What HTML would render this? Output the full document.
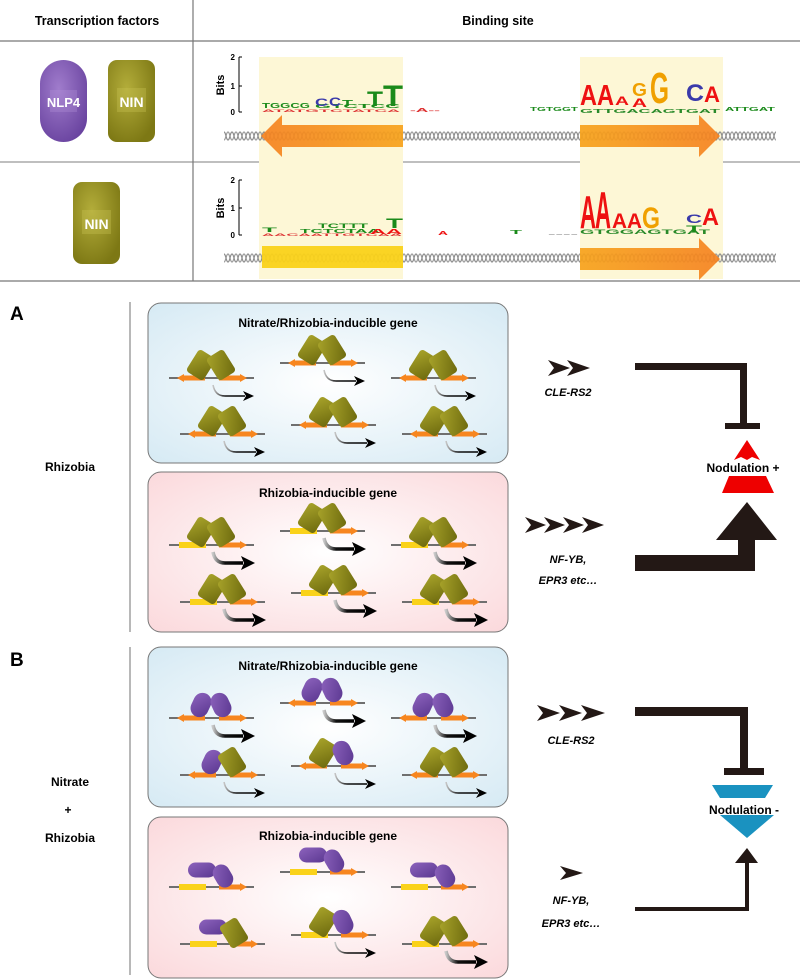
<!DOCTYPE html>
<html><head><meta charset="utf-8"><style>
html,body{margin:0;padding:0;background:#fff;}
svg{display:block;font-family:"Liberation Sans",Arial,sans-serif;}
</style></head><body>
<svg width="800" height="979" viewBox="0 0 800 979" xmlns="http://www.w3.org/2000/svg">
<defs>
<pattern id="helix1" x="0" y="130" width="8" height="12" patternUnits="userSpaceOnUse">
<path d="M0,2 C2,2 2,10 4,10 C6,10 6,2 8,2" fill="none" stroke="#8a8a8a" stroke-width="1.3"/>
<path d="M0,10 C2,10 2,2 4,2 C6,2 6,10 8,10" fill="none" stroke="#9a9a9a" stroke-width="1.3"/>
</pattern>
<pattern id="helix2" x="0" y="252" width="8" height="12" patternUnits="userSpaceOnUse">
<path d="M0,2 C2,2 2,10 4,10 C6,10 6,2 8,2" fill="none" stroke="#8a8a8a" stroke-width="1.3"/>
<path d="M0,10 C2,10 2,2 4,2 C6,2 6,10 8,10" fill="none" stroke="#9a9a9a" stroke-width="1.3"/>
</pattern>
<linearGradient id="orgL" x1="0" x2="1"><stop offset="0" stop-color="#f58220"/><stop offset="1" stop-color="#f7a21b"/></linearGradient>
<linearGradient id="orgR" x1="0" x2="1"><stop offset="0" stop-color="#f7a21b"/><stop offset="1" stop-color="#f58220"/></linearGradient>
<radialGradient id="bluebg" cx="0.5" cy="0.5" r="0.7"><stop offset="0" stop-color="#ffffff"/><stop offset="1" stop-color="#d6eaf4"/></radialGradient>
<radialGradient id="pinkbg" cx="0.5" cy="0.5" r="0.7"><stop offset="0" stop-color="#ffffff"/><stop offset="1" stop-color="#fbd9dc"/></radialGradient>
<linearGradient id="olv" x1="0" y1="0" x2="1" y2="1"><stop offset="0" stop-color="#a8a32a"/><stop offset="1" stop-color="#6d6a0e"/></linearGradient>
<linearGradient id="pur" x1="0" y1="0" x2="1" y2="1"><stop offset="0" stop-color="#8d63bd"/><stop offset="1" stop-color="#5a3790"/></linearGradient>
<radialGradient id="purBig" cx="0.4" cy="0.35" r="0.7"><stop offset="0" stop-color="#a07ccc"/><stop offset="1" stop-color="#6a44a0"/></radialGradient>
<radialGradient id="olvBig" cx="0.4" cy="0.35" r="0.7"><stop offset="0" stop-color="#b3ad3a"/><stop offset="1" stop-color="#7d7814"/></radialGradient>
<linearGradient id="fade" x1="0" x2="1"><stop offset="0" stop-color="#c8c8c8"/><stop offset="0.4" stop-color="#111"/><stop offset="1" stop-color="#000"/></linearGradient>

<g id="dnaO">
<line x1="0" y1="0" x2="85" y2="0" stroke="#6f6f6f" stroke-width="2"/>
<rect x="14" y="-2.5" width="22" height="5" fill="#f7861f"/><polygon points="8,0 15,-4 15,4" fill="#f7861f"/>
<rect x="50" y="-2.5" width="22" height="5" fill="#f7861f"/><polygon points="78,0 71,-4 71,4" fill="#f7861f"/>
</g>
<g id="dnaY">
<line x1="0" y1="0" x2="85" y2="0" stroke="#6f6f6f" stroke-width="2"/>
<rect x="10" y="-3" width="27" height="6" fill="#fad21a"/>
<rect x="50" y="-2.5" width="22" height="5" fill="#f7861f"/><polygon points="78,0 71,-4 71,4" fill="#f7861f"/>
</g>
<rect id="oL" x="-10" y="-13" width="20" height="26" rx="3.5" fill="url(#olv)" transform="translate(32,-13) rotate(32)"/>
<rect id="oR" x="-10" y="-13" width="20" height="26" rx="3.5" fill="url(#olv)" transform="translate(52,-13) rotate(-32)"/>
<rect id="pL" x="-9" y="-12.5" width="18" height="25" rx="9" fill="url(#pur)" transform="translate(32,-13) rotate(25)"/>
<rect id="pR" x="-9" y="-12.5" width="18" height="25" rx="9" fill="url(#pur)" transform="translate(52,-13) rotate(-25)"/>
<rect id="pH" x="-14" y="-7.5" width="28" height="15" rx="7.5" fill="url(#pur)" transform="translate(33,-17)"/>
<rect id="pR2" x="-8.5" y="-12" width="17" height="24" rx="8.5" fill="url(#pur)" transform="translate(54,-11) rotate(-30)"/>
<rect id="oR2" x="-10" y="-13" width="20" height="26" rx="3.5" fill="url(#olv)" transform="translate(54,-11) rotate(-32)"/>
<g id="arT"><path d="M44,7 Q46,18 56,18 L76,18" fill="none" stroke="url(#fade)" stroke-width="1.6"/><polygon points="74,13 85,18 74,23 77,18" fill="#000"/></g>
<g id="arK"><path d="M44,7 Q46,18 56,18 L74,18" fill="none" stroke="url(#fade)" stroke-width="3.5"/><polygon points="72,11 86,18 72,25 75,18" fill="#000"/></g>
</defs>

<!-- TOP TABLE -->
<text x="97" y="25" font-size="12.5" font-weight="bold" text-anchor="middle">Transcription factors</text>
<text x="498" y="25" font-size="12.5" font-weight="bold" text-anchor="middle">Binding site</text>
<line x1="0" y1="41" x2="800" y2="41" stroke="#777" stroke-width="1.2"/>
<line x1="0" y1="162" x2="800" y2="162" stroke="#999" stroke-width="1.2"/>
<line x1="0" y1="281" x2="800" y2="281" stroke="#777" stroke-width="1.2"/>
<line x1="193" y1="0" x2="193" y2="281" stroke="#777" stroke-width="1.2"/>

<rect x="40" y="60" width="47" height="82" rx="23.5" fill="url(#purBig)"/>
<rect x="50" y="90" width="27" height="22" fill="#b596dc" opacity="0.3"/>
<text x="63.5" y="107" font-size="13" font-weight="bold" fill="#fff" text-anchor="middle">NLP4</text>
<rect x="108" y="60" width="47" height="82" rx="9" fill="url(#olvBig)"/>
<rect x="117" y="88" width="29" height="24" fill="#c8c254" opacity="0.35"/>
<text x="131.5" y="107" font-size="14" font-weight="bold" fill="#fff" text-anchor="middle">NIN</text>
<rect x="73" y="182" width="47" height="82" rx="9" fill="url(#olvBig)"/>
<rect x="82" y="210" width="29" height="24" fill="#c8c254" opacity="0.35"/>
<text x="96.5" y="229" font-size="14" font-weight="bold" fill="#fff" text-anchor="middle">NIN</text>

<rect x="259" y="57" width="144" height="222" fill="#fdf7d6"/>
<rect x="580" y="57" width="143" height="222" fill="#fdf7d6"/>

<g font-size="8" font-weight="bold">
<line x1="239" y1="57" x2="239" y2="112" stroke="#000" stroke-width="1"/>
<line x1="239" y1="57" x2="242" y2="57" stroke="#000"/><line x1="239" y1="86" x2="242" y2="86" stroke="#000"/><line x1="239" y1="112" x2="242" y2="112" stroke="#000"/>
<text x="235" y="60" text-anchor="end">2</text><text x="235" y="89" text-anchor="end">1</text><text x="235" y="115" text-anchor="end">0</text>
<text transform="translate(224,85) rotate(-90)" text-anchor="middle" font-size="11">Bits</text>
<line x1="239" y1="180" x2="239" y2="235" stroke="#000" stroke-width="1"/>
<line x1="239" y1="180" x2="242" y2="180" stroke="#000"/><line x1="239" y1="208" x2="242" y2="208" stroke="#000"/><line x1="239" y1="235" x2="242" y2="235" stroke="#000"/>
<text x="235" y="183" text-anchor="end">2</text><text x="235" y="211" text-anchor="end">1</text><text x="235" y="238" text-anchor="end">0</text>
<text transform="translate(224,208) rotate(-90)" text-anchor="middle" font-size="11">Bits</text>
</g>

<g font-weight="bold">
<text x="262" y="108" font-size="7" fill="#1a8a1a" textLength="48" lengthAdjust="spacingAndGlyphs">TGGCG</text>
<text x="262" y="112" font-size="4" fill="#d33" textLength="138" lengthAdjust="spacingAndGlyphs">ATATGTCTATCA</text>
<text x="315" y="108" font-size="5" fill="#1a8a1a" textLength="85" lengthAdjust="spacingAndGlyphs">GTCTCC</text>
<text x="315" y="106" font-size="11" fill="#3a3aaa" textLength="13" lengthAdjust="spacingAndGlyphs">C</text>
<text x="329" y="106" font-size="12" fill="#3a3aaa" textLength="12" lengthAdjust="spacingAndGlyphs">C</text>
<text x="342" y="106" font-size="8" fill="#1a8a1a" textLength="11" lengthAdjust="spacingAndGlyphs">T</text>
<text x="367" y="106" font-size="21" fill="#1a8a1a" textLength="16" lengthAdjust="spacingAndGlyphs">T</text>
<text x="383" y="106" font-size="30" fill="#1a8a1a" textLength="20" lengthAdjust="spacingAndGlyphs">T</text>
<text x="410" y="112" font-size="5" fill="#d33" textLength="30" lengthAdjust="spacingAndGlyphs">-A--</text>
<text x="530" y="111" font-size="5" fill="#1a8a1a" textLength="48" lengthAdjust="spacingAndGlyphs">TGTGGT</text>
<text x="580" y="113" font-size="5" fill="#2a8a2a" textLength="140" lengthAdjust="spacingAndGlyphs">GTTGACAGTGAT</text>
<text x="580" y="105" font-size="29" fill="#ee1111" textLength="17" lengthAdjust="spacingAndGlyphs">A</text>
<text x="597" y="105" font-size="29" fill="#ee1111" textLength="17" lengthAdjust="spacingAndGlyphs">A</text>
<text x="615" y="105" font-size="12" fill="#ee1111" textLength="14" lengthAdjust="spacingAndGlyphs">A</text>
<text x="632" y="96" font-size="18" fill="#f0a000" textLength="15" lengthAdjust="spacingAndGlyphs">G</text>
<text x="632" y="107" font-size="12" fill="#ee1111" textLength="15" lengthAdjust="spacingAndGlyphs">A</text>
<text x="650" y="103" font-size="44" fill="#f0a000" textLength="19" lengthAdjust="spacingAndGlyphs">G</text>
<text x="686" y="101" font-size="24" fill="#3a3aaa" textLength="18" lengthAdjust="spacingAndGlyphs">C</text>
<text x="704" y="102" font-size="22" fill="#ee1111" textLength="16" lengthAdjust="spacingAndGlyphs">A</text>
<text x="725" y="111" font-size="5" fill="#1a8a1a" textLength="50" lengthAdjust="spacingAndGlyphs">ATTGAT</text>
</g>

<g font-weight="bold">
<text x="262" y="232" font-size="6" fill="#1a8a1a" textLength="15" lengthAdjust="spacingAndGlyphs">T</text>
<text x="262" y="236" font-size="4" fill="#d33" textLength="140" lengthAdjust="spacingAndGlyphs">AACAATTGTCAA</text>
<text x="300" y="233" font-size="5" fill="#1a8a1a" textLength="80" lengthAdjust="spacingAndGlyphs">TCTCTAA</text>
<text x="318" y="228" font-size="6" fill="#1a8a1a" textLength="50" lengthAdjust="spacingAndGlyphs">TCTTT</text>
<text x="386" y="228" font-size="14" fill="#1a8a1a" textLength="17" lengthAdjust="spacingAndGlyphs">T</text>
<text x="370" y="234" font-size="7" fill="#ee1111" textLength="32" lengthAdjust="spacingAndGlyphs">AA</text>
<text x="438" y="235" font-size="5" fill="#ee1111" textLength="10" lengthAdjust="spacingAndGlyphs">A</text>
<text x="510" y="234" font-size="5" fill="#1a8a1a" textLength="12" lengthAdjust="spacingAndGlyphs">T</text>
<text x="548" y="235" font-size="4" fill="#666" textLength="30" lengthAdjust="spacingAndGlyphs">----</text>
<text x="580" y="234" font-size="6" fill="#2a8a2a" textLength="130" lengthAdjust="spacingAndGlyphs">GTGGAGTGAT</text>
<text x="580" y="228" font-size="46" fill="#ee1111" textLength="16" lengthAdjust="spacingAndGlyphs">A</text>
<text x="595" y="228" font-size="52" fill="#ee1111" textLength="16" lengthAdjust="spacingAndGlyphs">A</text>
<text x="612" y="228" font-size="21" fill="#ee1111" textLength="15" lengthAdjust="spacingAndGlyphs">A</text>
<text x="627" y="228" font-size="21" fill="#ee1111" textLength="15" lengthAdjust="spacingAndGlyphs">A</text>
<text x="642" y="228" font-size="30" fill="#f0a000" textLength="18" lengthAdjust="spacingAndGlyphs">G</text>
<text x="686" y="223" font-size="12" fill="#3a3aaa" textLength="16" lengthAdjust="spacingAndGlyphs">C</text>
<text x="702" y="225" font-size="24" fill="#ee1111" textLength="17" lengthAdjust="spacingAndGlyphs">A</text>
<text x="686" y="232" font-size="9" fill="#1a8a1a" textLength="16" lengthAdjust="spacingAndGlyphs">T</text>
</g>

<rect x="224" y="130" width="552" height="12" fill="url(#helix1)"/>
<rect x="224" y="252" width="552" height="12" fill="url(#helix2)"/>
<path d="M261,136 L282,115 L282,125 L403,125 L403,147 L282,147 L282,157 Z" fill="url(#orgL)" opacity="0.92"/>
<path d="M720,136 L699,115 L699,125 L580,125 L580,147 L699,147 L699,157 Z" fill="url(#orgR)" opacity="0.92"/>
<rect x="262" y="246" width="141" height="22" fill="#fad21a" opacity="0.95"/>
<path d="M720,259 L699,238 L699,248 L580,248 L580,270 L699,270 L699,280 Z" fill="url(#orgR)" opacity="0.92"/>

<!-- PANEL A -->
<text x="10" y="320" font-size="19" font-weight="bold">A</text>
<line x1="130" y1="302" x2="130" y2="632" stroke="#888" stroke-width="1.2"/>
<text x="70" y="471" font-size="12" font-weight="bold" text-anchor="middle">Rhizobia</text>
<rect x="148" y="303" width="360" height="160" rx="13" fill="url(#bluebg)" stroke="#777" stroke-width="1"/>
<text x="328" y="327" font-size="12" font-weight="bold" text-anchor="middle">Nitrate/Rhizobia-inducible gene</text>
<rect x="148" y="472" width="360" height="160" rx="13" fill="url(#pinkbg)" stroke="#777" stroke-width="1"/>
<text x="328" y="497" font-size="12" font-weight="bold" text-anchor="middle">Rhizobia-inducible gene</text>

<g transform="translate(169,378)"><use href="#dnaO"/><use href="#oL"/><use href="#oR"/><use href="#arT"/></g>
<g transform="translate(280,363)"><use href="#dnaO"/><use href="#oL"/><use href="#oR"/><use href="#arT"/></g>
<g transform="translate(391,378)"><use href="#dnaO"/><use href="#oL"/><use href="#oR"/><use href="#arT"/></g>
<g transform="translate(180,434)"><use href="#dnaO"/><use href="#oL"/><use href="#oR"/><use href="#arT"/></g>
<g transform="translate(291,425)"><use href="#dnaO"/><use href="#oL"/><use href="#oR"/><use href="#arT"/></g>
<g transform="translate(402,434)"><use href="#dnaO"/><use href="#oL"/><use href="#oR"/><use href="#arT"/></g>

<g transform="translate(169,545)"><use href="#dnaY"/><use href="#oL"/><use href="#oR"/><use href="#arK"/></g>
<g transform="translate(280,531)"><use href="#dnaY"/><use href="#oL"/><use href="#oR"/><use href="#arK"/></g>
<g transform="translate(391,545)"><use href="#dnaY"/><use href="#oL"/><use href="#oR"/><use href="#arK"/></g>
<g transform="translate(180,602)"><use href="#dnaY"/><use href="#oL"/><use href="#oR"/><use href="#arK"/></g>
<g transform="translate(291,593)"><use href="#dnaY"/><use href="#oL"/><use href="#oR"/><use href="#arK"/></g>
<g transform="translate(402,602)"><use href="#dnaY"/><use href="#oL"/><use href="#oR"/><use href="#arK"/></g>

<g fill="#231815">
<polygon points="548,360 570,368 548,376 554,368"/><polygon points="567,360 590,368 567,376 573,368"/>
<polygon points="525,517 546,525 525,533 531,525"/><polygon points="544,517 565,525 544,533 550,525"/><polygon points="563,517 584,525 563,533 569,525"/>
<polygon points="582,517 604,525 582,533 588,525"/>
<path d="M635,363 L747,363 L747,423 L760,423 L760,429 L725,429 L725,423 L740,423 L740,370 L635,370 Z"/>
<path d="M635,555 L738,555 L738,540 L716,540 L747,502 L777,540 L755,540 L755,571 L635,571 Z"/>
</g>
<path d="M747,440 L760,460 L752,457 L747,460 L741,457 L734,460 Z" fill="#ee0000"/>
<path d="M729,476 L766,476 L774,493 L722,493 Z" fill="#ee0000"/>
<text x="743" y="472" font-size="12" font-weight="bold" text-anchor="middle">Nodulation +</text>
<text x="568" y="396" font-size="11" font-weight="bold" font-style="italic" text-anchor="middle">CLE-RS2</text>
<text x="568" y="563" font-size="11" font-weight="bold" font-style="italic" text-anchor="middle">NF-YB,</text>
<text x="568" y="584" font-size="11" font-weight="bold" font-style="italic" text-anchor="middle">EPR3 etc…</text>

<!-- PANEL B -->
<text x="10" y="666" font-size="19" font-weight="bold">B</text>
<line x1="130" y1="647" x2="130" y2="975" stroke="#888" stroke-width="1.2"/>
<text x="70" y="786" font-size="12" font-weight="bold" text-anchor="middle">Nitrate</text>
<text x="68" y="814" font-size="12" font-weight="bold" text-anchor="middle">+</text>
<text x="70" y="842" font-size="12" font-weight="bold" text-anchor="middle">Rhizobia</text>
<rect x="148" y="647" width="360" height="160" rx="13" fill="url(#bluebg)" stroke="#777" stroke-width="1"/>
<text x="328" y="670" font-size="12" font-weight="bold" text-anchor="middle">Nitrate/Rhizobia-inducible gene</text>
<rect x="148" y="817" width="360" height="161" rx="13" fill="url(#pinkbg)" stroke="#777" stroke-width="1"/>
<text x="328" y="840" font-size="12" font-weight="bold" text-anchor="middle">Rhizobia-inducible gene</text>

<g transform="translate(169,718)"><use href="#dnaO"/><use href="#pL"/><use href="#pR"/><use href="#arK"/></g>
<g transform="translate(280,703)"><use href="#dnaO"/><use href="#pL"/><use href="#pR"/><use href="#arK"/></g>
<g transform="translate(391,718)"><use href="#dnaO"/><use href="#pL"/><use href="#pR"/><use href="#arK"/></g>
<g transform="translate(180,775)"><use href="#dnaO"/><use href="#pL"/><use href="#oR"/><use href="#arT"/></g>
<g transform="translate(291,766)"><use href="#dnaO"/><use href="#oL"/><use href="#pR"/><use href="#arT"/></g>
<g transform="translate(402,775)"><use href="#dnaO"/><use href="#oL"/><use href="#oR"/><use href="#arT"/></g>

<g transform="translate(169,887)"><use href="#dnaY"/><use href="#pH"/><use href="#pR2"/></g>
<g transform="translate(280,872)"><use href="#dnaY"/><use href="#pH"/><use href="#pR2"/></g>
<g transform="translate(391,887)"><use href="#dnaY"/><use href="#pH"/><use href="#pR2"/></g>
<g transform="translate(180,944)"><use href="#dnaY"/><use href="#pH"/><use href="#oR2"/></g>
<g transform="translate(291,935)"><use href="#dnaY"/><use href="#oL"/><use href="#pR"/><use href="#arT"/></g>
<g transform="translate(402,944)"><use href="#dnaY"/><use href="#oL"/><use href="#oR"/><use href="#arK"/></g>

<g fill="#231815">
<polygon points="537,705 560,713 537,721 543,713"/><polygon points="559,705 582,713 559,721 565,713"/><polygon points="581,705 605,713 581,721 587,713"/>
<polygon points="560,866 583,873 560,880 566,873"/>
<path d="M635,707 L748,707 L748,768 L764,768 L764,775 L724,775 L724,768 L740,768 L740,716 L635,716 Z"/>
<path d="M635,907 L745,907 L745,863 L735,863 L747,848 L758,863 L749,863 L749,911 L635,911 Z"/>
</g>
<path d="M712,785 L773,785 L765,798 L720,798 Z" fill="#1a92c0"/>
<path d="M720,815 L774,815 L747,838 Z" fill="#1a92c0"/>
<text x="744" y="814" font-size="12" font-weight="bold" text-anchor="middle">Nodulation -</text>
<text x="571" y="744" font-size="11" font-weight="bold" font-style="italic" text-anchor="middle">CLE-RS2</text>
<text x="571" y="904" font-size="11" font-weight="bold" font-style="italic" text-anchor="middle">NF-YB,</text>
<text x="571" y="927" font-size="11" font-weight="bold" font-style="italic" text-anchor="middle">EPR3 etc…</text>
</svg>
</body></html>
